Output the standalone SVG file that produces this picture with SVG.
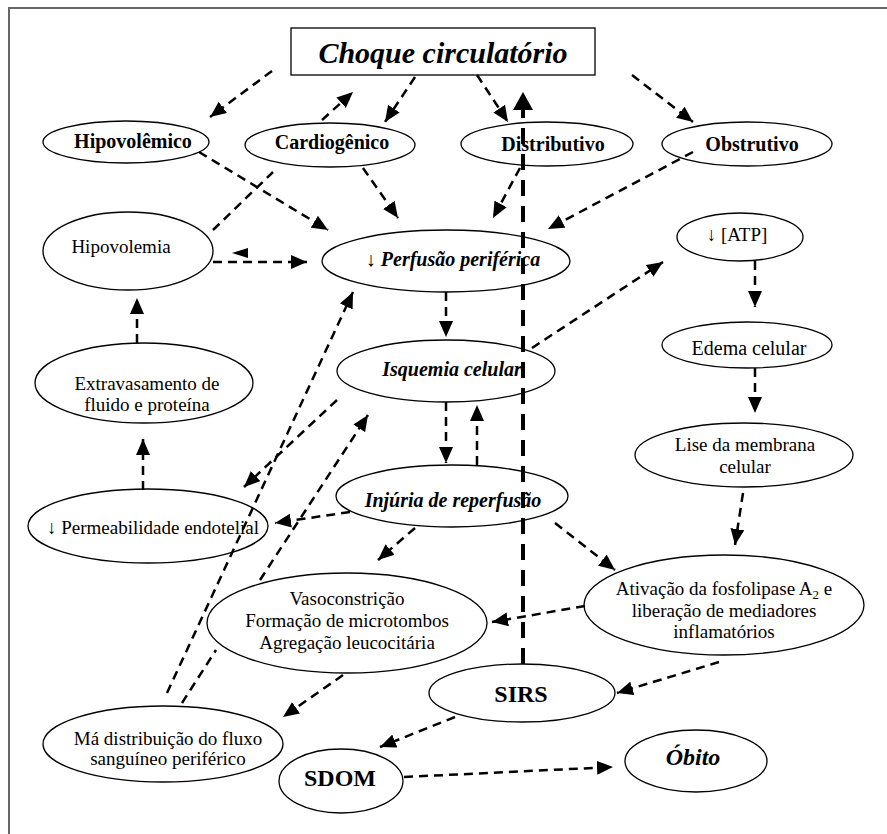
<svg xmlns="http://www.w3.org/2000/svg" width="887" height="834" viewBox="0 0 887 834">
<style>
  .bg{fill:#ffffff}
  .frame{stroke:#666;stroke-width:2;fill:none}
  .n ellipse,.n rect{fill:#fff;stroke:#000;stroke-width:1.3}
  text{font-family:"Liberation Serif","Times New Roman",serif;fill:#000;text-anchor:middle}
  .r{font-size:19px}
  .r20{font-size:20px}
  .b{font-size:20px;font-weight:bold}
  .bi{font-size:20px;font-weight:bold;font-style:italic}
  .big{font-size:24px;font-weight:bold}
  .c path{fill:none;stroke:#000;stroke-width:2.5;stroke-dasharray:9 6;marker-end:url(#ah)}
  .c path.thick{stroke-width:4;stroke-dasharray:16 10;marker-end:url(#ahb)}
</style>
<defs>
  <marker id="ah" viewBox="0 0 16 14" refX="16" refY="7" markerWidth="16" markerHeight="14" markerUnits="userSpaceOnUse" orient="auto">
    <path d="M0,0 L16,7 L0,14 z" fill="#000"/>
  </marker>
  <marker id="ahb" viewBox="0 0 18 20" refX="18" refY="10" markerWidth="18" markerHeight="20" markerUnits="userSpaceOnUse" orient="auto">
    <path d="M0,0 L18,10 L0,20 z" fill="#000"/>
  </marker>
</defs>
<rect class="bg" x="0" y="0" width="887" height="834"/>
<path class="frame" d="M9,834 L9,8 L887,8"/>

<g id="choque" class="n">
  <rect x="291" y="28" width="304" height="47"/>
  <text x="443" y="63" style="font-size:30px;font-weight:bold;font-style:italic">Choque circulatório</text>
</g>
<g id="hipovolemico" class="n">
  <ellipse cx="126" cy="142" rx="83" ry="21"/>
  <text class="b" x="133" y="148">Hipovolêmico</text>
</g>
<g id="cardiogenico" class="n">
  <ellipse cx="330" cy="145" rx="85" ry="22"/>
  <text class="b" x="332" y="149">Cardiogênico</text>
</g>
<g id="distributivo" class="n">
  <ellipse cx="547" cy="144" rx="86" ry="22"/>
  <text class="b" x="553" y="151">Distributivo</text>
</g>
<g id="obstrutivo" class="n">
  <ellipse cx="747" cy="144" rx="85" ry="22"/>
  <text class="b" x="752" y="151">Obstrutivo</text>
</g>
<g id="hipovolemia" class="n">
  <ellipse cx="128" cy="251" rx="85" ry="39"/>
  <text class="r" x="121" y="253">Hipovolemia</text>
</g>
<g id="perfusao" class="n">
  <ellipse cx="446" cy="261" rx="124" ry="31"/>
  <text class="bi" x="453" y="266">↓ Perfusão periférica</text>
</g>
<g id="atp" class="n">
  <ellipse cx="740" cy="237" rx="63" ry="24"/>
  <text class="r" x="737" y="241">↓ [ATP]</text>
</g>
<g id="isquemia" class="n">
  <ellipse cx="446" cy="371" rx="109" ry="31"/>
  <text class="bi" x="452" y="376">Isquemia celular</text>
</g>
<g id="edema" class="n">
  <ellipse cx="747" cy="345" rx="85" ry="23"/>
  <text class="r20" x="749" y="355">Edema celular</text>
</g>
<g id="extravasamento" class="n">
  <ellipse cx="144" cy="383" rx="109" ry="40"/>
  <text class="r" x="147" y="390">Extravasamento de</text>
  <text class="r" x="147" y="411">fluido e proteína</text>
</g>
<g id="lise" class="n">
  <ellipse cx="744" cy="455" rx="109" ry="32"/>
  <text class="r" x="745" y="451">Lise da membrana</text>
  <text class="r" x="745" y="473">celular</text>
</g>
<g id="injuria" class="n">
  <ellipse cx="452" cy="496" rx="116" ry="31"/>
  <text class="bi" x="453" y="507">Injúria de reperfusão</text>
</g>
<g id="permeabilidade" class="n">
  <ellipse cx="148" cy="526" rx="120" ry="37"/>
  <text class="r" x="153" y="534">↓ Permeabilidade endotelial</text>
</g>
<g id="ativacao" class="n">
  <ellipse cx="724" cy="605" rx="140" ry="50"/>
  <text class="r" x="724" y="595">Ativação da fosfolipase A<tspan font-size="13" dy="4">2</tspan><tspan dy="-4"> e</tspan></text>
  <text class="r" x="724" y="617">liberação de mediadores</text>
  <text class="r" x="724" y="638">inflamatórios</text>
</g>
<g id="vasoconstricao" class="n">
  <ellipse cx="347" cy="623" rx="140" ry="50"/>
  <text class="r" x="347" y="605">Vasoconstrição</text>
  <text class="r" x="347" y="627">Formação de microtombos</text>
  <text class="r" x="347" y="649">Agregação leucocitária</text>
</g>
<g id="sirs" class="n">
  <ellipse cx="522" cy="693" rx="93" ry="29"/>
  <text class="big" x="521" y="702">SIRS</text>
</g>
<g id="madistribuicao" class="n">
  <ellipse cx="163" cy="744" rx="120" ry="38"/>
  <text class="r" x="168" y="745">Má distribuição do fluxo</text>
  <text class="r" x="168" y="765">sanguíneo periférico</text>
</g>
<g id="sdom" class="n">
  <ellipse cx="341" cy="781" rx="62" ry="32"/>
  <text class="big" x="340" y="786">SDOM</text>
</g>
<g id="obito" class="n">
  <ellipse cx="696" cy="761" rx="71" ry="31"/>
  <text class="big" x="693" y="765" font-style="italic">Óbito</text>
</g>

<g id="connectors" class="c">
  <path d="M272,71 L210,117"/>
  <path d="M213,230 L273,172 M322,120 L353,92"/>
  <path d="M415,77 L385,122"/>
  <path d="M477,75 L508,122"/>
  <path d="M632,75 L693,122"/>
  <path d="M199,152 L328,230"/>
  <path d="M363,168 L398,218"/>
  <path d="M520,168 L493,218"/>
  <path d="M693,152 L548,229"/>
  <path d="M213,262 L307,262"/>
  <polygon points="232,253 248,248 248,258" fill="#000"/>
  <path d="M446,292 L446,337"/>
  <path d="M532,348 L663,262"/>
  <path d="M755,261 L755,307"/>
  <path d="M755,368 L755,413"/>
  <path d="M743,493 L735,545"/>
  <path d="M446,402 L446,463"/>
  <path d="M477,465 L477,405"/>
  <path d="M337,400 L244,487"/>
  <path d="M350,512 L275,523"/>
  <path d="M143,490 L143,439"/>
  <path d="M137,343 L137,298"/>
  <path d="M167,693 L353,292"/>
  <path d="M182,703 L216,650 M260,580 L368,415"/>
  <path d="M415,528 L378,560"/>
  <path d="M555,523 L615,570"/>
  <path d="M585,606 L492,622"/>
  <path d="M719,662 L617,693"/>
  <path d="M343,675 L283,717"/>
  <path d="M455,717 L380,747"/>
  <path d="M404,777 L613,767"/>
  <path class="thick" d="M523,664 L523,92"/>
</g>
</svg>
